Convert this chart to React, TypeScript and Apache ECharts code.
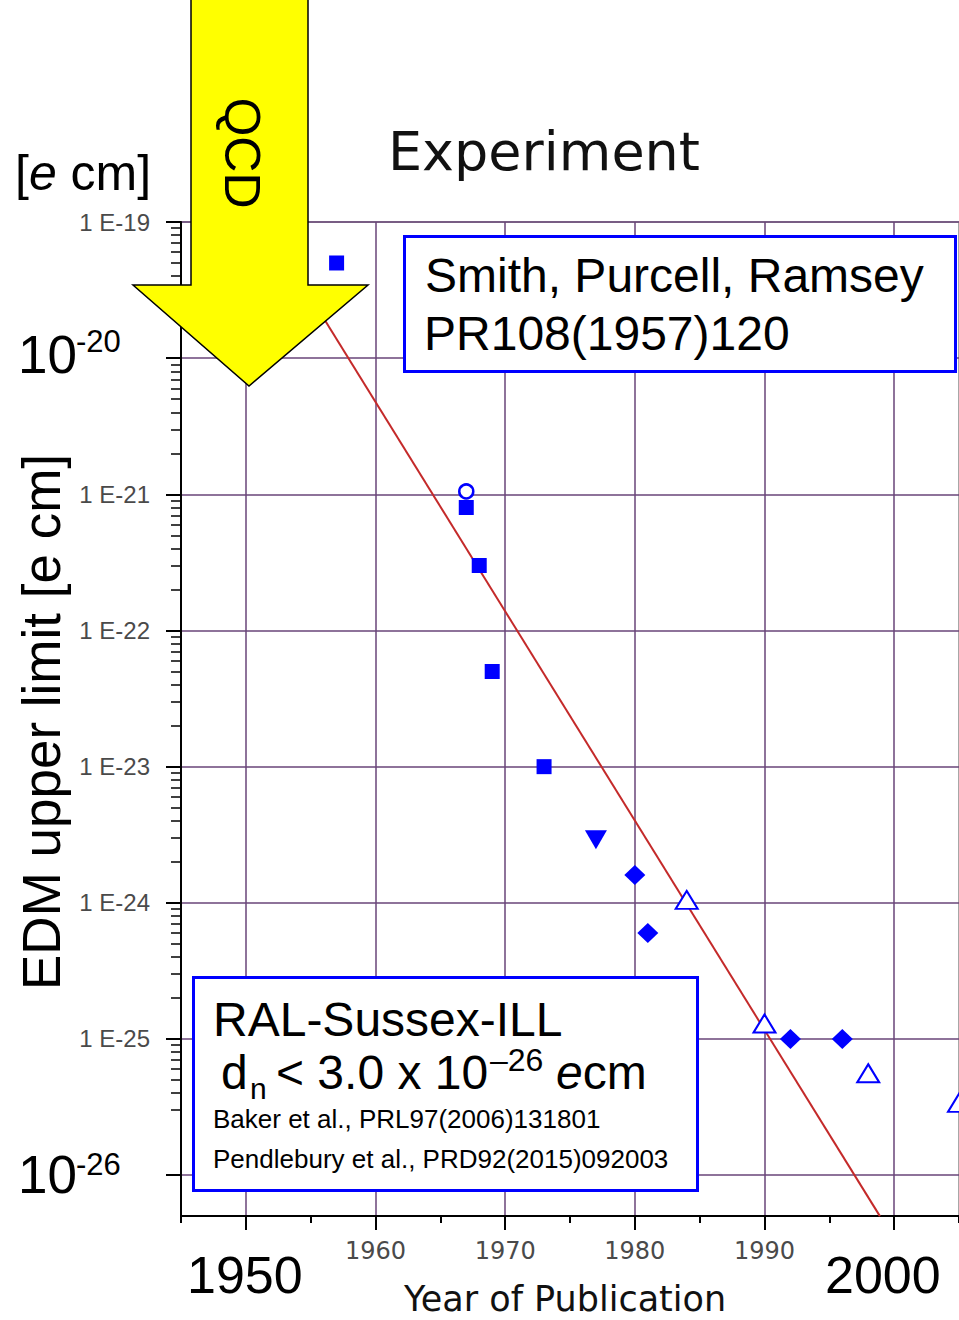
import React, { useEffect, useRef } from 'react';
import * as echarts from 'echarts';

// ---- data ----
const squareYears = [1957, 1967, 1968, 1969, 1973];
const squareLimits = [5.0e-20, 8.0e-22, 3.0e-22, 5.0e-23, 1.0e-23];
const openCircleYears = [1967];
const openCircleLimits = [1.05e-21];
const downTriangleYears = [1977];
const downTriangleLimits = [2.9e-24];
const diamondYears = [1980, 1981, 1992, 1996];
const diamondLimits = [1.6e-24, 6.0e-25, 1.0e-25, 1.0e-25];
const openTriangleYears = [1984, 1990, 1998, 2005];
const openTriangleLimits = [1.05e-24, 1.3e-25, 5.6e-26, 3.4e-26];
const trendYears = [1952, 1998.9];
const trendLimits = [8.1e-20, 5.0e-27];

// ---- axis scaffolding ----
const yearMajorTicks = [1950, 1960, 1970, 1980, 1990, 2000];
const yearMinorTicks = [1945, 1955, 1965, 1975, 1985, 1995, 2005];
const yearTickLabels = [1960, 1970, 1980, 1990];
const decadeExponents = [-26, -25, -24, -23, -22, -21, -20, -19];
const decadeLabelExponents = [-25, -24, -23, -22, -21, -19];
const minorMantissas = [2, 3, 4, 5, 6, 7, 8, 9];

const minorExponents: number[] = [];
for (const n of decadeExponents) {
  if (n === -19) continue;
  for (const k of minorMantissas) {
    if (n === -26 && k === 2) continue;
    minorExponents.push(n + Math.log10(k));
  }
}

const toPoints = (years: number[], vals: number[]) =>
  years.map((y, i) => [y, Math.log10(vals[i])]);

const SANS = '"Liberation Sans", Arial, Helvetica, sans-serif';
const DJ = '"DejaVu Sans", Verdana, sans-serif';
const BLUE = '#0000ff';
const GRID = '#684478';

const txt = (text: string, x: number, y: number, fontSize: number, extra: any = {}) => ({
  type: 'text',
  x,
  y,
  z: 120,
  style: {
    text,
    fontSize,
    fontFamily: SANS,
    fill: '#000',
    align: 'left',
    verticalAlign: 'middle',
    ...(extra.style || {}),
  },
  ...(extra.el || {}),
});

const option: any = {
  animation: false,
  backgroundColor: '#ffffff',
  grid: {
    left: 181,
    right: 0,
    top: 222,
    bottom: 104,
    show: true,
    borderColor: '#8a8a8a',
    borderWidth: 1.5,
    containLabel: false,
    outerBoundsMode: 'none',
  },
  xAxis: [
    {
      type: 'value',
      min: 1945,
      max: 2005,
      splitNumber: 6,
      position: 'bottom',
      axisLine: { show: true, onZero: false, lineStyle: { color: '#000', width: 2 } },
      axisTick: {
        show: true,
        length: 14,
        customValues: yearMajorTicks,
        lineStyle: { color: '#000', width: 2 },
      },
      axisLabel: {
        show: true,
        customValues: yearTickLabels,
        formatter: (v: number) =>
          yearTickLabels.includes(Math.round(v)) && Math.abs(v - Math.round(v)) < 1e-6
            ? String(Math.round(v))
            : '',
        color: '#4a4a4a',
        fontFamily: DJ,
        fontSize: 24,
        margin: 23,
      },
      splitLine: { show: true, lineStyle: { color: GRID, width: 1.5 } },
    },
    {
      type: 'value',
      min: 1945,
      max: 2005,
      position: 'bottom',
      axisLine: { show: false, onZero: false },
      axisTick: {
        show: true,
        length: 7,
        customValues: yearMinorTicks,
        lineStyle: { color: '#000', width: 2 },
      },
      axisLabel: { show: false },
      splitLine: { show: false },
    },
  ],
  yAxis: [
    {
      type: 'value',
      min: -26.3,
      max: -19,
      splitNumber: 7,
      position: 'left',
      axisLine: { show: true, onZero: false, lineStyle: { color: '#000', width: 2 } },
      axisTick: {
        show: true,
        length: 15,
        customValues: decadeExponents,
        lineStyle: { color: '#000', width: 2 },
      },
      axisLabel: {
        show: true,
        customValues: decadeLabelExponents,
        formatter: (v: number) => {
          const r = Math.round(v);
          if (Math.abs(v - r) > 1e-6 || !decadeLabelExponents.includes(r)) return '';
          return '1 E' + r;
        },
        color: '#4a4a4a',
        fontFamily: SANS,
        fontSize: 24,
        margin: 31,
      },
      splitLine: { show: true, lineStyle: { color: GRID, width: 1.5 } },
    },
    {
      type: 'value',
      min: -26.3,
      max: -19,
      position: 'left',
      axisLine: { show: false, onZero: false },
      axisTick: {
        show: true,
        length: 10,
        customValues: minorExponents,
        lineStyle: { color: '#000', width: 1.5 },
      },
      axisLabel: { show: false },
      splitLine: { show: false },
    },
  ],
  series: [
    {
      type: 'line',
      data: toPoints(trendYears, trendLimits),
      symbol: 'none',
      lineStyle: { color: '#c42a2a', width: 2 },
      z: 3,
    },
    {
      type: 'scatter',
      data: toPoints(squareYears, squareLimits),
      symbol: 'rect',
      symbolSize: 15,
      itemStyle: { color: BLUE, opacity: 1 },
      z: 5,
    },
    {
      type: 'scatter',
      data: toPoints(openCircleYears, openCircleLimits),
      symbol: 'circle',
      symbolSize: 14,
      itemStyle: { color: '#fff', borderColor: BLUE, borderWidth: 2.5, opacity: 1 },
      z: 4,
    },
    {
      type: 'scatter',
      data: toPoints(downTriangleYears, downTriangleLimits),
      symbol: 'triangle',
      symbolRotate: 180,
      symbolSize: [22, 19],
      itemStyle: { color: BLUE, opacity: 1 },
      z: 5,
    },
    {
      type: 'scatter',
      data: toPoints(diamondYears, diamondLimits),
      symbol: 'diamond',
      symbolSize: [21, 20],
      itemStyle: { color: BLUE, opacity: 1 },
      z: 5,
    },
    {
      type: 'scatter',
      data: toPoints(openTriangleYears, openTriangleLimits),
      symbol: 'triangle',
      symbolSize: [22, 18],
      clip: false,
      itemStyle: { color: '#fff', borderColor: BLUE, borderWidth: 2, opacity: 1 },
      z: 5,
    },
  ],
  graphic: [
    {
      type: 'rect',
      z: 100,
      shape: { x: 404.5, y: 236.5, width: 551, height: 135 },
      style: { fill: '#fff', stroke: BLUE, lineWidth: 3 },
    },
    {
      type: 'rect',
      z: 100,
      shape: { x: 193.5, y: 977.5, width: 504, height: 213 },
      style: { fill: '#fff', stroke: BLUE, lineWidth: 3 },
    },
    txt('Smith, Purcell, Ramsey', 425, 275.5, 48),
    txt('PR108(1957)120', 424, 333.5, 48),
    txt('RAL-Sussex-ILL', 213, 1019, 48),
    txt('d', 221, 1072, 48),
    txt('n', 250, 1088, 30),
    txt('< 3.0 x 10', 276, 1072, 48),
    txt('\u201326', 490, 1060, 32),
    {
      type: 'text',
      x: 556,
      y: 1072,
      z: 120,
      style: {
        text: '{i|e}{n|cm}',
        verticalAlign: 'middle',
        align: 'left',
        rich: {
          i: { fontSize: 48, fontFamily: SANS, fontStyle: 'italic', fill: '#000' },
          n: { fontSize: 48, fontFamily: SANS, fill: '#000' },
        },
      },
    },
    txt('Baker et al., PRL97(2006)131801', 213, 1119, 26),
    txt('Pendlebury et al., PRD92(2015)092003', 213, 1159, 26),
    // big overlay labels
    {
      type: 'text',
      x: 15,
      y: 173,
      z: 120,
      style: {
        text: '{n|[}{i|e}{n| cm]}',
        verticalAlign: 'middle',
        align: 'left',
        rich: {
          i: { fontSize: 50, fontFamily: SANS, fontStyle: 'italic', fill: '#000' },
          n: { fontSize: 50, fontFamily: SANS, fill: '#000' },
        },
      },
    },
    txt('Experiment', 388, 151.5, 54, { style: { fontFamily: DJ, fill: '#111' } }),
    txt('10', 18, 354, 53),
    txt('-20', 76, 341, 31),
    txt('10', 18, 1174.5, 53),
    txt('-26', 76, 1164, 31),
    txt('1950', 187, 1274.5, 52),
    txt('2000', 825, 1274.5, 52),
    txt('Year of Publication', 404, 1299, 35, { style: { fontFamily: DJ, fill: '#111' } }),
    txt('EDM upper limit [e cm]', 41, 722, 53, {
      style: { align: 'center' },
      el: { rotation: Math.PI / 2 },
    }),
    // QCD arrow
    {
      type: 'polygon',
      z: 130,
      shape: {
        points: [
          [191, -5],
          [308, -5],
          [308, 285],
          [368, 285],
          [249, 386],
          [133, 285],
          [191, 285],
        ],
      },
      style: { fill: '#ffff00', stroke: '#000', lineWidth: 1.5 },
    },
    {
      type: 'text',
      x: 242,
      y: 153,
      z: 131,
      rotation: -Math.PI / 2,
      style: {
        text: 'QCD',
        fontSize: 50,
        fontFamily: SANS,
        fill: '#000',
        align: 'center',
        verticalAlign: 'middle',
      },
    },
  ],
};

export default function App() {
  const ref = useRef<HTMLDivElement>(null);
  useEffect(() => {
    document.body.style.margin = '0';
    const chart = echarts.init(ref.current as HTMLDivElement, null, { renderer: 'svg' });
    chart.setOption(option);
    return () => {
      chart.dispose();
    };
  }, []);
  return <div ref={ref} style={{ width: 959, height: 1320 }} />;
}
